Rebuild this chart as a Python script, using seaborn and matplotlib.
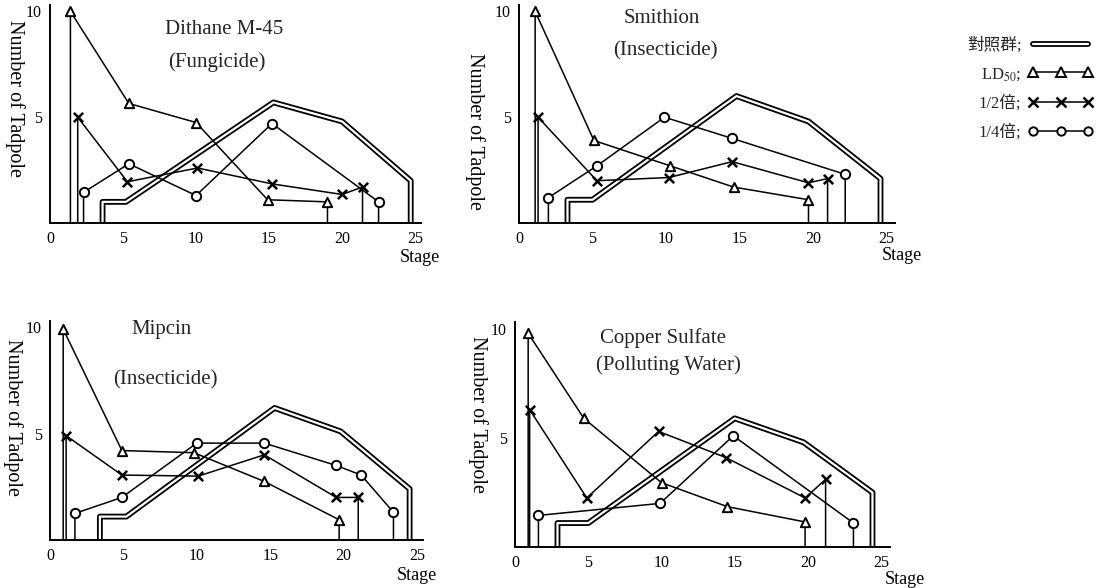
import matplotlib
matplotlib.use('Agg')
import matplotlib.pyplot as plt
import matplotlib.patheffects as pe
from matplotlib.lines import Line2D
import seaborn as sns
import pandas as pd

# ---- data (stage vs. number of tadpoles) ----
# Dithane M-45 (Fungicide)
dithane_ctrl_x = [3.6, 5.2, 15.3, 20.0, 24.7]
dithane_ctrl_y = [1.0, 1.0, 5.7, 4.8, 2.0]
dithane_ld50_x = [1.4, 5.4, 10.0, 14.9, 19.0]
dithane_ld50_y = [10.0, 5.65, 4.75, 1.1, 1.0]
dithane_half_x = [1.9, 5.3, 10.1, 15.2, 20.0, 21.4]
dithane_half_y = [5.0, 1.95, 2.6, 1.85, 1.35, 1.7]
dithane_quarter_x = [2.3, 5.4, 10.0, 15.2, 22.5]
dithane_quarter_y = [1.45, 2.8, 1.3, 4.7, 1.0]

# Smithion (Insecticide)
smithion_ctrl_x = [3.3, 5.0, 14.8, 19.7, 24.6]
smithion_ctrl_y = [1.1, 1.1, 6.0, 4.8, 2.1]
smithion_ld50_x = [1.1, 5.1, 10.3, 14.6, 19.7]
smithion_ld50_y = [10.0, 3.9, 2.7, 1.7, 1.1]
smithion_half_x = [1.3, 5.3, 10.2, 14.5, 19.7, 21.0]
smithion_half_y = [5.0, 2.0, 2.15, 2.9, 1.9, 2.1]
smithion_quarter_x = [2.0, 5.3, 9.9, 14.5, 22.2]
smithion_quarter_y = [1.2, 2.7, 5.0, 4.0, 2.3]

# Mipcin (Insecticide)
mipcin_ctrl_x = [3.4, 5.2, 15.3, 19.8, 24.5]
mipcin_ctrl_y = [1.1, 1.1, 6.2, 5.1, 2.4]
mipcin_ld50_x = [0.9, 4.9, 9.8, 14.6, 19.7]
mipcin_ld50_y = [9.9, 4.2, 4.1, 2.75, 0.95]
mipcin_half_x = [1.1, 4.9, 10.1, 14.6, 19.5, 21.0]
mipcin_half_y = [4.9, 3.05, 3.0, 4.0, 2.0, 2.0]
mipcin_quarter_x = [1.7, 4.9, 10.0, 14.6, 19.5, 21.2, 23.4]
mipcin_quarter_y = [1.25, 2.0, 4.55, 4.55, 3.5, 3.05, 1.3]

# Copper Sulfate (Polluting Water)
copper_ctrl_x = [2.9, 5.0, 15.0, 19.7, 24.4]
copper_ctrl_y = [1.1, 1.1, 5.9, 4.8, 2.5]
copper_ld50_x = [0.9, 4.7, 10.0, 14.5, 19.8]
copper_ld50_y = [9.8, 5.9, 2.95, 1.85, 1.15]
copper_half_x = [1.0, 4.9, 9.8, 14.4, 19.8, 21.2]
copper_half_y = [6.3, 2.25, 5.3, 4.1, 2.25, 3.1]
copper_quarter_x = [1.6, 9.9, 14.9, 23.1]
copper_quarter_y = [1.45, 2.0, 5.1, 1.1]

x_ticks = [0, 5, 10, 15, 20, 25]
y_ticks = [5, 10]
legend_labels = ['對照群;', 'LD$_{50}$;', '1/2倍;', '1/4倍;']

sns.set_theme(style='white')
plt.rcParams['font.family'] = ['Liberation Serif', 'Noto Sans CJK TC', 'DejaVu Sans']
plt.rcParams['mathtext.fontset'] = 'stix'

DOUBLE = [pe.Stroke(linewidth=4.2, foreground='black'), pe.Normal()]


def with_drops(xs, ys):
    """Each curve rises from the baseline at its first stage and drops back at its last."""
    return [xs[0]] + list(xs) + [xs[-1]], [0] + list(ys) + [0]


def draw_series(ax, xs, ys, kind):
    px, py = with_drops(xs, ys)
    path = pd.DataFrame({'stage': px, 'count': py})
    if kind == 'ctrl':
        sns.lineplot(data=path, x='stage', y='count', sort=False, estimator=None, ax=ax,
                     color='white', linewidth=1.6, path_effects=DOUBLE, zorder=2)
        return
    sns.lineplot(data=path, x='stage', y='count', sort=False, estimator=None, ax=ax,
                 color='black', linewidth=1.1, zorder=3)
    pts = pd.DataFrame({'stage': xs, 'count': ys})
    if kind == 'half':
        sns.scatterplot(data=pts, x='stage', y='count', marker='x', color='black',
                        s=45, linewidth=1.8, ax=ax, zorder=4)
    else:
        mk = '^' if kind == 'ld50' else 'o'
        sns.scatterplot(data=pts, x='stage', y='count', marker=mk, color='white',
                        edgecolor='black', s=45, linewidth=1.4, ax=ax, zorder=4)


panels = [
    dict(rect=[0.0449, 0.6207, 0.3333, 0.3707], xmax=25.4,
         title=('Dithane M-45', (0.47, 0.89)), sub=('(Fungicide)', (0.45, 0.74)),
         ylab=(-0.094, 0.57), xlab=(0.997, -0.16),
         series=[(dithane_ctrl_x, dithane_ctrl_y, 'ctrl'), (dithane_ld50_x, dithane_ld50_y, 'ld50'),
                 (dithane_half_x, dithane_half_y, 'half'), (dithane_quarter_x, dithane_quarter_y, 'quarter')]),
    dict(rect=[0.4663, 0.6207, 0.338, 0.3707], xmax=25.6,
         title=('Smithion', (0.38, 0.94)), sub=('(Insecticide)', (0.39, 0.79)),
         ylab=(-0.117, 0.42), xlab=(1.019, -0.147),
         series=[(smithion_ctrl_x, smithion_ctrl_y, 'ctrl'), (smithion_ld50_x, smithion_ld50_y, 'ld50'),
                 (smithion_half_x, smithion_half_y, 'half'), (smithion_quarter_x, smithion_quarter_y, 'quarter')]),
    dict(rect=[0.0449, 0.0816, 0.335, 0.3731], xmax=25.4,
         title=('Mipcin', (0.30, 0.96)), sub=('(Insecticide)', (0.31, 0.73)),
         ylab=(-0.10, 0.56), xlab=(0.984, -0.16),
         series=[(mipcin_ctrl_x, mipcin_ctrl_y, 'ctrl'), (mipcin_ld50_x, mipcin_ld50_y, 'ld50'),
                 (mipcin_half_x, mipcin_half_y, 'half'), (mipcin_quarter_x, mipcin_quarter_y, 'quarter')]),
    dict(rect=[0.4627, 0.0697, 0.337, 0.382], xmax=25.6,
         title=('Copper Sulfate', (0.395, 0.93)), sub=('(Polluting Water)', (0.41, 0.81)),
         ylab=(-0.099, 0.59), xlab=(1.04, -0.145),
         series=[(copper_ctrl_x, copper_ctrl_y, 'ctrl'), (copper_ld50_x, copper_ld50_y, 'ld50'),
                 (copper_half_x, copper_half_y, 'half'), (copper_quarter_x, copper_quarter_y, 'quarter')]),
]

fig = plt.figure(figsize=(11.13, 5.88), dpi=100)

for p in panels:
    ax = fig.add_axes(p['rect'])
    for xs, ys, kind in p['series']:
        draw_series(ax, xs, ys, kind)
    ax.set_xlim(0, p['xmax'])
    ax.set_ylim(0, 10.3)
    ax.set_xticks(x_ticks)
    ax.set_yticks(y_ticks)
    sns.despine(ax=ax)
    for side in ['left', 'bottom']:
        ax.spines[side].set_color('black')
        ax.spines[side].set_linewidth(1.4)
    ax.tick_params(length=3, width=1, color='black', labelsize=11.5, pad=3, labelcolor='black')
    ax.set_ylabel('Number of Tadpole', rotation=270, fontsize=14.5, color='black', va='center')
    ax.yaxis.set_label_coords(*p['ylab'])
    ax.set_xlabel('Stage', fontsize=13, color='black', va='center')
    ax.xaxis.set_label_coords(*p['xlab'])
    t, (tx, ty) = p['title']
    ax.text(tx, ty, t, transform=ax.transAxes, ha='center', va='center', fontsize=15)
    s, (sx, sy) = p['sub']
    ax.text(sx, sy, s, transform=ax.transAxes, ha='center', va='center', fontsize=15)

handles = [
    Line2D([], [], color='white', linewidth=1.6, path_effects=DOUBLE),
    Line2D([], [], color='black', linewidth=1.1, marker='^', markersize=7,
           markerfacecolor='white', markeredgecolor='black', markeredgewidth=1.4),
    Line2D([], [], color='black', linewidth=1.1, marker='x', markersize=7, markeredgewidth=1.8),
    Line2D([], [], color='black', linewidth=1.1, marker='o', markersize=6,
           markerfacecolor='white', markeredgecolor='black', markeredgewidth=1.4),
]
fig.legend(handles, legend_labels, loc='upper right', bbox_to_anchor=(1108 / 1113, 1 - 22 / 588),
           frameon=False, markerfirst=False, numpoints=3, handlelength=3.9,
           labelspacing=0.75, fontsize=12, handletextpad=0.4)

fig.savefig('out.png', dpi=100)
